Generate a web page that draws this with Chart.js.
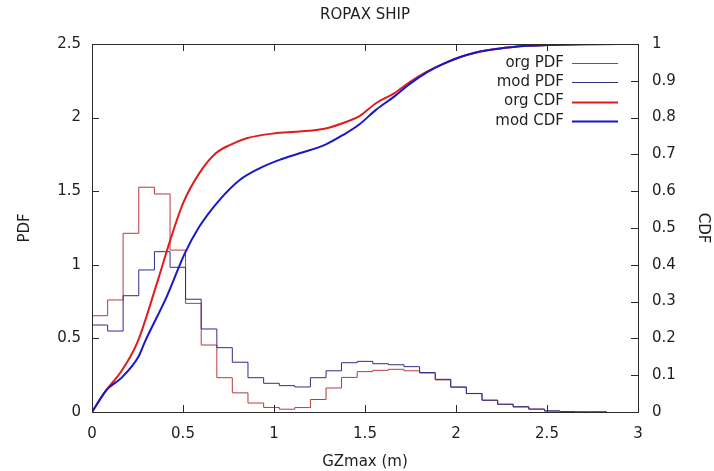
<!DOCTYPE html>
<html>
<head>
<meta charset="utf-8">
<script src="https://cdn.jsdelivr.net/npm/chart.js@4.4.1/dist/chart.umd.min.js"></script>
<style>
  html, body { margin: 0; padding: 0; background: #fff; }
  #wrap { width: 714px; height: 471px; }
</style>
</head>
<body>
<div id="wrap"><canvas id="grafico"></canvas></div>
<script>
// bordes de las clases del histograma (GZmax en m)
const bordesX = [0, 0.086, 0.171, 0.257, 0.343, 0.429, 0.514, 0.6, 0.686, 0.771, 0.857, 0.943,
  1.029, 1.114, 1.2, 1.286, 1.371, 1.457, 1.543, 1.629, 1.714, 1.8, 1.886, 1.971,
  2.057, 2.143, 2.229, 2.314, 2.4, 2.486, 2.571, 2.657, 2.743, 2.829];

// PDF por clase
const orgPdf = [0.654, 0.761, 1.214, 1.527, 1.481, 1.10, 0.738, 0.455, 0.233, 0.13, 0.061, 0.031,
  0.019, 0.03, 0.085, 0.163, 0.235, 0.274, 0.283, 0.29, 0.28, 0.265, 0.218, 0.168,
  0.125, 0.08, 0.052, 0.034, 0.019, 0.006];
const modPdf = [0.591, 0.55, 0.79, 0.965, 1.089, 0.983, 0.766, 0.564, 0.437, 0.338, 0.233, 0.195,
  0.179, 0.17, 0.233, 0.28, 0.335, 0.344, 0.328, 0.321, 0.308, 0.268, 0.222, 0.17,
  0.126, 0.08, 0.053, 0.036, 0.02, 0.008, 0.003, 0.002, 0.002];

// CDF
const orgCdfX = [0, 0.08, 0.16, 0.25, 0.36, 0.43, 0.5, 0.59, 0.68, 0.76, 0.85, 1.0, 1.14, 1.29, 1.4,
  1.47, 1.56, 1.66, 1.75, 1.84, 1.93, 2.02, 2.11, 2.2, 2.3, 2.39, 2.5, 2.7, 3];
const orgCdfY = [0, 0.06, 0.11, 0.19, 0.355, 0.467, 0.567, 0.649, 0.703, 0.726, 0.744, 0.757, 0.762, 0.771, 0.789,
  0.804, 0.839, 0.866, 0.898, 0.925, 0.946, 0.964, 0.977, 0.985, 0.991, 0.995, 0.997, 0.999, 1];
const modCdfX = [0, 0.08, 0.16, 0.255, 0.29, 0.41, 0.51, 0.59, 0.7, 0.81, 0.92, 1.03, 1.14, 1.28, 1.38,
  1.47, 1.56, 1.66, 1.75, 1.84, 1.93, 2.02, 2.11, 2.2, 2.3, 2.39, 2.5, 2.7, 3];
const modCdfY = [0, 0.06, 0.092, 0.15, 0.19, 0.313, 0.431, 0.504, 0.576, 0.63, 0.662, 0.685, 0.703, 0.726, 0.753,
  0.782, 0.821, 0.857, 0.893, 0.923, 0.946, 0.964, 0.977, 0.985, 0.991, 0.995, 0.997, 0.999, 1];

// marcas de los ejes
const ticksX = [0, 0.5, 1, 1.5, 2, 2.5, 3];
const ticksPdf = [0, 0.5, 1, 1.5, 2, 2.5];
const ticksCdf = [0, 0.1, 0.2, 0.3, 0.4, 0.5, 0.6, 0.7, 0.8, 0.9, 1];

const fuente = { family: 'DejaVu Sans', size: 15 };
const colorTexto = '#1e1e1e';

function escalones(bordes, valores) {
  // cada punto mantiene su valor hasta el siguiente borde
  const puntos = valores.map((v, i) => ({ x: bordes[i], y: v }));
  puntos.push({ x: bordes[valores.length], y: valores[valores.length - 1] });
  return puntos;
}

function pares(xs, ys) {
  return xs.map((x, i) => ({ x: x, y: ys[i] }));
}

function fijarTicks(lista) {
  return function (escala) {
    escala.ticks = lista.map(v => ({ value: v }));
  };
}

// etiquetas como gnuplot: 0, 0.5, 1 ...
function etiqueta(v) {
  return String(Number(v.toFixed(2)));
}

// marco, marcas hacia dentro, titulo y leyenda al estilo gnuplot
const estiloGnuplot = {
  id: 'estiloGnuplot',
  afterDraw(chart) {
    const ctx = chart.ctx;
    const a = chart.chartArea;
    const sx = chart.scales.x, sy = chart.scales.y, sy2 = chart.scales.y2;
    const largo = 7;
    ctx.save();
    ctx.strokeStyle = '#2a2a2a';
    ctx.lineWidth = 1;
    ctx.beginPath();
    ticksX.forEach(v => {
      const px = Math.round(sx.getPixelForValue(v)) + 0.5;
      ctx.moveTo(px, a.bottom); ctx.lineTo(px, a.bottom - largo);
      ctx.moveTo(px, a.top); ctx.lineTo(px, a.top + largo);
    });
    ticksPdf.forEach(v => {
      const py = Math.round(sy.getPixelForValue(v)) + 0.5;
      ctx.moveTo(a.left, py); ctx.lineTo(a.left + largo, py);
    });
    ticksCdf.forEach(v => {
      const py = Math.round(sy2.getPixelForValue(v)) + 0.5;
      ctx.moveTo(a.right, py); ctx.lineTo(a.right - largo, py);
    });
    ctx.stroke();
    ctx.strokeRect(Math.round(a.left) + 0.5, Math.round(a.top) + 0.5,
      Math.round(a.right - a.left), Math.round(a.bottom - a.top));

    ctx.fillStyle = colorTexto;
    ctx.font = '15px "DejaVu Sans"';
    ctx.textAlign = 'center';
    ctx.textBaseline = 'middle';
    ctx.fillText('ROPAX SHIP', (a.left + a.right) / 2, 15);

    // leyenda
    ctx.textAlign = 'right';
    chart.data.datasets.forEach((ds, i) => {
      const y = 63 + i * 19.3;
      ctx.fillStyle = colorTexto;
      ctx.fillText(ds.label, 564, y);
      ctx.strokeStyle = ds.borderColor;
      ctx.lineWidth = ds.borderWidth;
      ctx.beginPath();
      ctx.moveTo(572, Math.round(y) + 0.5);
      ctx.lineTo(618, Math.round(y) + 0.5);
      ctx.stroke();
    });
    ctx.restore();
  }
};

const ctx = document.getElementById('grafico').getContext('2d');
new Chart(ctx, {
  type: 'line',
  data: {
    datasets: [
      { label: 'org PDF', data: escalones(bordesX, orgPdf), yAxisID: 'y', borderColor: '#b83a3a',
        borderWidth: 1, stepped: 'before', pointRadius: 0, fill: false, order: 3 },
      { label: 'mod PDF', data: escalones(bordesX, modPdf), yAxisID: 'y', borderColor: '#2e2e86',
        borderWidth: 1, stepped: 'before', pointRadius: 0, fill: false, order: 2 },
      { label: 'org CDF', data: pares(orgCdfX, orgCdfY), yAxisID: 'y2', borderColor: '#e01c1c',
        borderWidth: 2, pointRadius: 0, fill: false, cubicInterpolationMode: 'monotone', order: 1 },
      { label: 'mod CDF', data: pares(modCdfX, modCdfY), yAxisID: 'y2', borderColor: '#1818c8',
        borderWidth: 2, pointRadius: 0, fill: false, cubicInterpolationMode: 'monotone', order: 0 }
    ]
  },
  options: {
    responsive: true,
    maintainAspectRatio: false,
    animation: false,
    layout: { padding: { top: 44, left: 0, right: 0, bottom: 0 } },
    plugins: { legend: { display: false }, title: { display: false }, tooltip: { enabled: false } },
    scales: {
      x: {
        type: 'linear', min: 0, max: 3,
        afterBuildTicks: fijarTicks(ticksX),
        afterFit(s) { s.height = 59; },
        grid: { display: false, drawTicks: false },
        border: { display: false },
        ticks: { font: fuente, color: colorTexto, padding: 13, maxRotation: 0, callback: etiqueta },
        title: { display: true, text: 'GZmax (m)', font: fuente, color: colorTexto, padding: { top: 0, bottom: 0 } }
      },
      y: {
        type: 'linear', position: 'left', min: 0, max: 2.5,
        afterBuildTicks: fijarTicks(ticksPdf),
        afterFit(s) { s.width = 92; },
        grid: { display: false, drawTicks: false },
        border: { display: false },
        ticks: { font: fuente, color: colorTexto, padding: 11, callback: etiqueta },
        title: { display: true, text: 'PDF', font: fuente, color: colorTexto, padding: { top: 16, bottom: 0 } }
      },
      y2: {
        type: 'linear', position: 'right', min: 0, max: 1,
        afterBuildTicks: fijarTicks(ticksCdf),
        afterFit(s) { s.width = 76; },
        grid: { display: false, drawTicks: false },
        border: { display: false },
        ticks: { font: fuente, color: colorTexto, padding: 14, callback: etiqueta },
        title: { display: true, text: 'CDF', font: fuente, color: colorTexto, padding: { top: 2, bottom: 0 } }
      }
    }
  },
  plugins: [estiloGnuplot]
});
</script>
</body>
</html>
